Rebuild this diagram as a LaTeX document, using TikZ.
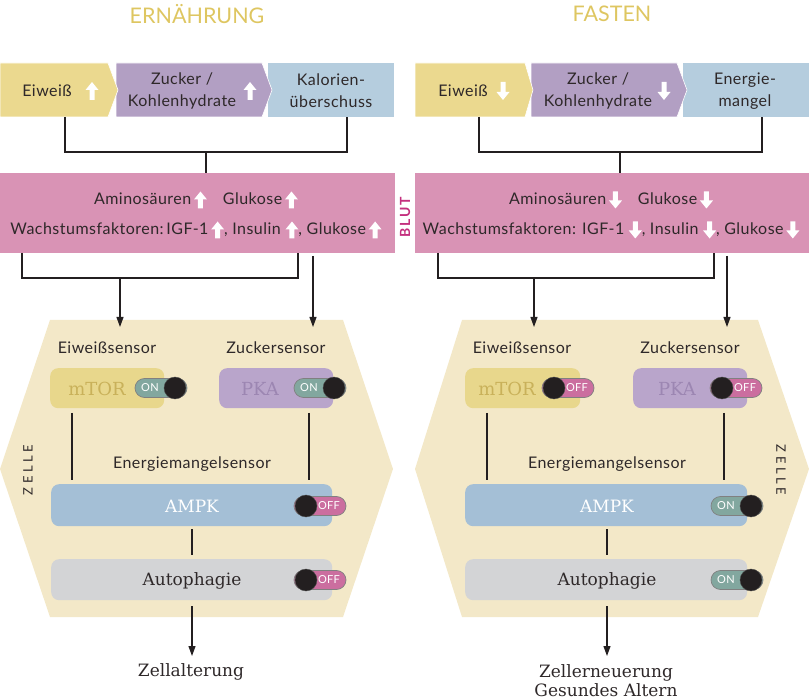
\documentclass[tikz,border=0pt]{standalone}
\usepackage{fontspec}
\setmainfont{Lato}[LetterSpace=3]
\newfontfamily\seriff{DejaVu Serif}
\usetikzlibrary{arrows.meta,calc}
\definecolor{titc}{HTML}{DEC661}
\definecolor{yelc}{HTML}{EBD98F}
\definecolor{purc}{HTML}{B29FC3}
\definecolor{bluc}{HTML}{B5CDDE}
\definecolor{bloodc}{HTML}{D993B5}
\definecolor{cellc}{HTML}{F3E8C8}
\definecolor{mtorc}{HTML}{E8D78C}
\definecolor{mtortc}{HTML}{C9B15A}
\definecolor{pkac}{HTML}{B9A5CB}
\definecolor{pkatc}{HTML}{9C86B2}
\definecolor{ampkc}{HTML}{A4BFD6}
\definecolor{autoc}{HTML}{D3D4D6}
\definecolor{txtc}{HTML}{2E2829}
\definecolor{linec}{HTML}{231F20}
\definecolor{blutc}{HTML}{C4307E}
\definecolor{onc}{HTML}{82A79F}
\definecolor{offc}{HTML}{CB6E9F}
\definecolor{knobc}{HTML}{231F20}
\newcommand{\ua}{\tikz[baseline=0pt,x=1pt,y=1pt]\fill[white](4,-3.5)--(4,5.5)--(0,5.5)--(6.5,13.5)--(13,5.5)--(9,5.5)--(9,-3.5)--cycle;}
\newcommand{\da}{\tikz[baseline=0pt,x=1pt,y=1pt]\fill[white](4,13.5)--(4,4.5)--(0,4.5)--(6.5,-3.5)--(13,4.5)--(9,4.5)--(9,13.5)--cycle;}
\newcommand{\uab}{\tikz[x=1pt,y=1pt]\fill[white](4,0)--(4,10)--(0,10)--(6.5,18)--(13,10)--(9,10)--(9,0)--cycle;}
\newcommand{\dab}{\tikz[x=1pt,y=1pt]\fill[white](4,18)--(4,8)--(0,8)--(6.5,0)--(13,8)--(9,8)--(9,18)--cycle;}
\tikzset{
 ln/.style={draw=linec, line width=1.1pt},
 arr/.style={draw=linec, line width=1.1pt, -{Triangle[length=10pt,width=7pt]}},
 txt/.style={text=txtc, font=\fontsize{16}{22}\selectfont, inner sep=0pt, align=center},
 ser/.style={font=\seriff\fontsize{17}{20}\selectfont, inner sep=0pt, align=center},
 rbox/.style={rectangle, rounded corners=8pt, inner sep=0pt, anchor=north west},
 pill/.style={rectangle, rounded corners=9.5pt, minimum width=52pt, minimum height=19pt, inner sep=0pt, draw=black!50, line width=0.7pt},
 knob/.style={circle, fill=knobc, minimum size=22pt, inner sep=0pt, draw=black!70, line width=0.4pt},
 tgtxt/.style={text=white, font=\fontsize{11}{12}\selectfont, inner sep=0pt},
 sideLbl/.style={text=txtc, font=\fontsize{13}{13}\selectfont\addfontfeature{LetterSpace=28}, inner sep=0pt},
}
\newcommand{\togon}[3]{%
  \node[pill, fill=onc] (#1p) at (#2,#3) {};
  \node[tgtxt, xshift=-11pt] (#1t) at (#2,#3) {ON};
  \node[knob, xshift=14pt] (#1k) at (#2,#3) {};
}
\newcommand{\togoff}[3]{%
  \node[pill, fill=offc] (#1p) at (#2,#3) {};
  \node[tgtxt, xshift=9pt] (#1t) at (#2,#3) {OFF};
  \node[knob, xshift=-14pt] (#1k) at (#2,#3) {};
}
\begin{document}
\begin{tikzpicture}[x=1pt,y=-1pt]
\useasboundingbox (0,0) rectangle (809,700);
% titles
\node[text=titc, font=\fontsize{21.5}{22}\selectfont\addfontfeature{LetterSpace=0}, inner sep=0pt] (titL) at (197,14) {ERNÄHRUNG};
\node[text=titc, font=\fontsize{21.5}{22}\selectfont\addfontfeature{LetterSpace=0}, inner sep=0pt] (titR) at (612,14) {FASTEN};

% ===== top boxes left
\fill[bluc] (268,63) rectangle (394,117);
\filldraw[fill=purc, draw=white, line width=0.6pt] (116,63) -- (262,63) -- (272,90) -- (262,117) -- (116,117) -- cycle;
\filldraw[fill=yelc, draw=white, line width=0.6pt] (0,63) -- (108,63) -- (118,90) -- (108,117) -- (0,117) -- cycle;
\node[txt] (eiwL) at (47,91) {Eiweiß};
\node[inner sep=0pt] (eiwLa) at (92,91) {\uab};
\node[txt] (zucL) at (182,91) {Zucker /\\Kohlenhydrate};
\node[inner sep=0pt] (zucLa) at (250,91) {\uab};
\node[txt] (kalL) at (331,91) {Kalorien-\\überschuss};
% ===== top boxes right
\fill[bluc] (683,63) rectangle (809,117);
\filldraw[fill=purc, draw=white, line width=0.6pt] (531,63) -- (677,63) -- (687,90) -- (677,117) -- (531,117) -- cycle;
\filldraw[fill=yelc, draw=white, line width=0.6pt] (415,63) -- (525,63) -- (533,90) -- (525,117) -- (415,117) -- cycle;
\node[txt] (eiwR) at (463,91) {Eiweiß};
\node[inner sep=0pt] (eiwRa) at (503,91) {\dab};
\node[txt] (zucR) at (598,91) {Zucker /\\Kohlenhydrate};
\node[inner sep=0pt] (zucRa) at (664,91) {\dab};
\node[txt] (enR) at (745,91) {Energie-\\mangel};

% ===== blood boxes
\node[rectangle, fill=bloodc, minimum width=395pt, minimum height=80pt, inner sep=0pt, anchor=north west] (blutL) at (0,173) {};
\node[rectangle, fill=bloodc, minimum width=394pt, minimum height=80pt, inner sep=0pt, anchor=north west] (blutR) at (415,173) {};
\node[txt] (bl1L) at (196,200) {Aminosäuren\,\ua\hspace{16pt}Glukose\,\ua};
\node[txt] (bl2L) at (196,230) {Wachstumsfaktoren:\,IGF-1\,\ua, Insulin \ua, Glukose\,\ua};
\node[txt] (bl1R) at (611,200) {Aminosäuren\,\da\hspace{16pt}Glukose\,\da};
\node[txt] (bl2R) at (611,230) {Wachstumsfaktoren: IGF-1 \da, Insulin \da, Glukose\,\da};
\node[text=blutc, font=\bfseries\fontsize{14}{14}\selectfont\addfontfeature{LetterSpace=12}, rotate=90, inner sep=0pt] (blut) at (405,217) {BLUT};

% ===== connectors top -> blood
\coordinate (aL) at (65,117); \coordinate (cL) at (347,117); \coordinate (jL) at (206,152);
\draw[ln] (aL) |- (jL) -| (cL);
\draw[ln] (jL) -- (jL |- blutL.north);
\coordinate (aR) at (479,117); \coordinate (cR) at (762,117); \coordinate (jR) at (620,152);
\draw[ln] (aR) |- (jR) -| (cR);
\draw[ln] (jR) -- (jR |- blutR.north);

% ===== cells
\fill[cellc] (50,320) -- (343,320) -- (393,469) -- (343,617) -- (50,617) -- (0,469) -- cycle;
\fill[cellc] (462,320) -- (758,320) -- (809,469) -- (758,617) -- (462,617) -- (415,469) -- cycle;
\node[sideLbl, rotate=90] (zelleL) at (28,470) {ZELLE};
\node[sideLbl, rotate=-90] (zelleR) at (781,470) {ZELLE};

% ===== blood -> cell connectors
\coordinate (b1L) at (22,253); \coordinate (b2L) at (298,253); \coordinate (bjL) at (120,278);
\draw[ln] (b1L) |- (bjL) -| (b2L);
\coordinate (b3L) at (313,256);
\coordinate (b1R) at (438,253); \coordinate (b2R) at (714,253); \coordinate (bjR) at (534,278);
\draw[ln] (b1R) |- (bjR) -| (b2R);
\coordinate (b3R) at (727,256);

% ===== left cell contents
\node[txt] (esL) at (107,348) {Eiweißsensor};
\node[txt] (zsL) at (276,348) {Zuckersensor};
\node[rbox, fill=mtorc, minimum width=114pt, minimum height=40pt] (mtorL) at (50,368) {};
\node[rbox, fill=pkac, minimum width=114pt, minimum height=40pt] (pkaL) at (219,368) {};
\node[ser, text=mtortc, font=\seriff\fontsize{18}{20}\selectfont] (mtorLt) at (97,389) {mTOR};
\node[ser, text=pkatc, font=\seriff\fontsize{18}{20}\selectfont] (pkaLt) at (260,389) {PKA};
\togon{t1}{161}{388}
\togon{t2}{320}{388}
\node[txt] (emL) at (192,464) {Energiemangelsensor};
\node[rbox, fill=ampkc, minimum width=281pt, minimum height=42pt] (ampkL) at (51,484) {};
\node[rbox, fill=autoc, minimum width=281pt, minimum height=41pt] (autoL) at (51,559) {};
\node[ser, text=white] (ampkLt) at (192,506) {AMPK};
\node[ser, text=txtc] (autoLt) at (192,581) {Autophagie};
\togoff{t3}{320}{506}
\togoff{t4}{320}{580}
\draw[arr] (bjL) -- (bjL |- 0,327);
\draw[arr] (b3L) -- (b3L |- 0,327);
\draw[ln] (72,413) -- (72,480);
\draw[ln] (309,413) -- (309,480);
\draw[ln] (192,529) -- (192,555);
\node[ser, text=txtc, font=\seriff\fontsize{17}{20}\selectfont] (outL) at (191,672) {Zellalterung};
\draw[arr] (192,606) -- (192,656);

% ===== right cell contents
\node[txt] (esR) at (522,348) {Eiweißsensor};
\node[txt] (zsR) at (690,348) {Zuckersensor};
\node[rbox, fill=mtorc, minimum width=115pt, minimum height=40pt] (mtorR) at (465,368) {};
\node[rbox, fill=pkac, minimum width=114pt, minimum height=40pt] (pkaR) at (633,368) {};
\node[ser, text=mtortc, font=\seriff\fontsize{18}{20}\selectfont] (mtorRt) at (507,389) {mTOR};
\node[ser, text=pkatc, font=\seriff\fontsize{18}{20}\selectfont] (pkaRt) at (677,389) {PKA};
\togoff{t5}{568}{388}
\togoff{t6}{736}{388}
\node[txt] (emR) at (607,464) {Energiemangelsensor};
\node[rbox, fill=ampkc, minimum width=282pt, minimum height=42pt] (ampkR) at (465,484) {};
\node[rbox, fill=autoc, minimum width=282pt, minimum height=41pt] (autoR) at (465,559) {};
\node[ser, text=white] (ampkRt) at (607,506) {AMPK};
\node[ser, text=txtc] (autoRt) at (607,581) {Autophagie};
\togon{t7}{737}{506}
\togon{t8}{737}{580}
\draw[arr] (bjR) -- (bjR |- 0,327);
\draw[arr] (b3R) -- (b3R |- 0,327);
\draw[ln] (487,413) -- (487,480);
\draw[ln] (724,413) -- (724,480);
\draw[ln] (607,529) -- (607,555);
\node[ser, text=txtc, font=\seriff\fontsize{17}{19}\selectfont] (outR) at (606,681) {Zellerneuerung\\Gesundes Altern};
\draw[arr] (607,606) -- (607,656);
\end{tikzpicture}
\end{document}
